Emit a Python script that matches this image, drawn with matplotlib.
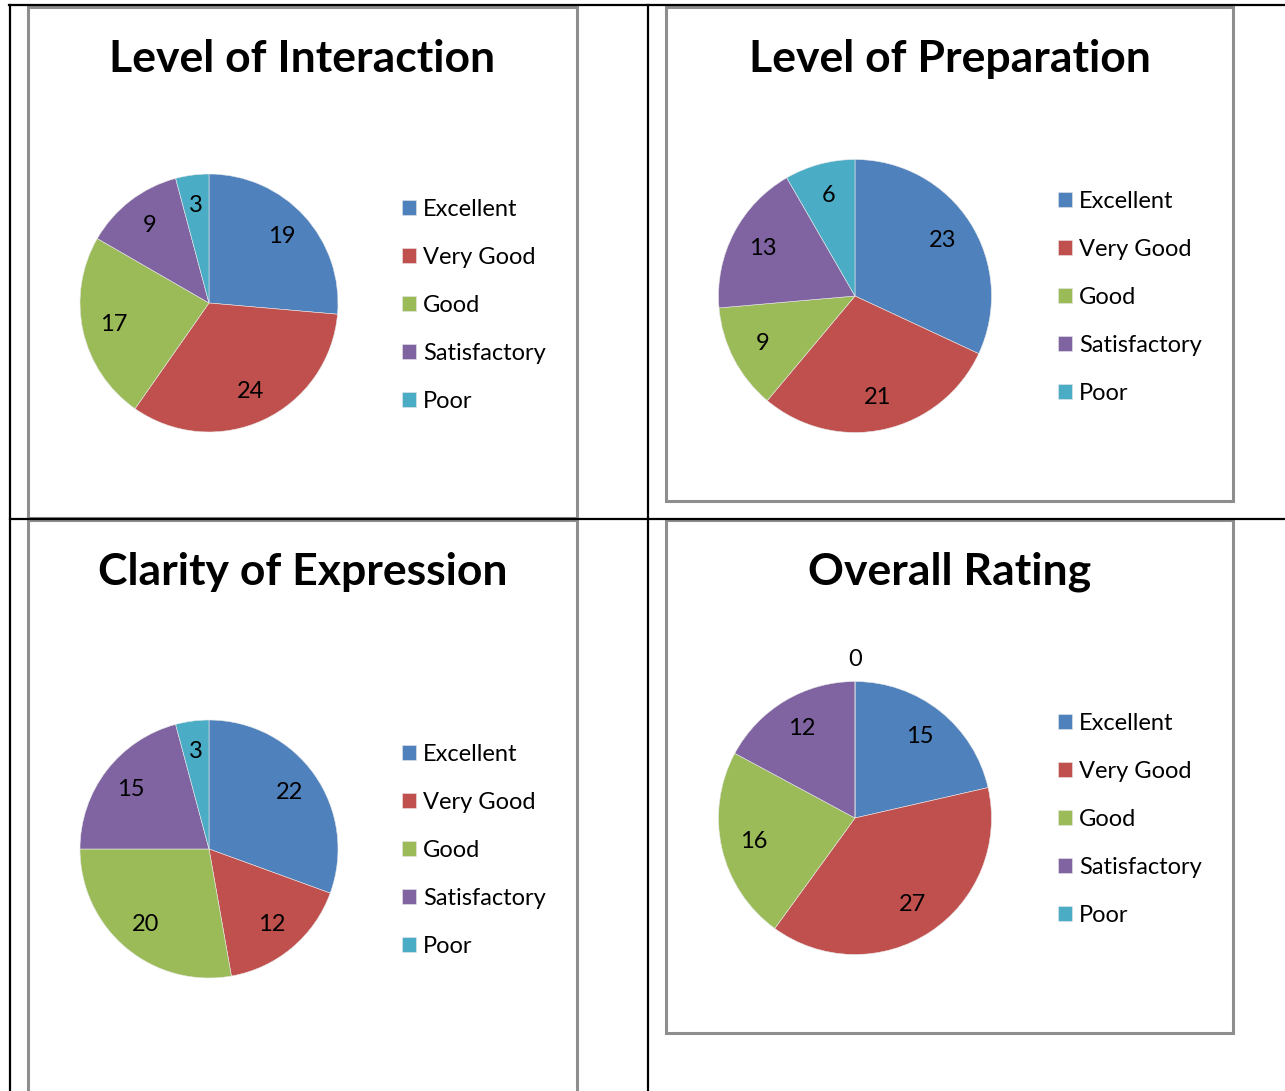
import matplotlib.pyplot as plt
from matplotlib.patches import Rectangle
from matplotlib.lines import Line2D

W, H = 1285, 1091

categories = ["Excellent", "Very Good", "Good", "Satisfactory", "Poor"]
colors = ["#4F81BD", "#C0504D", "#9BBB59", "#8064A2", "#4BACC6"]

titles = ["Level of Interaction", "Level of Preparation",
          "Clarity of Expression", "Overall Rating"]
interaction = [19, 24, 17, 9, 3]
preparation = [23, 21, 9, 13, 6]
clarity = [22, 12, 20, 15, 3]
overall = [15, 27, 16, 12, 0]

plt.rcParams['font.family'] = ['Lato', 'DejaVu Sans']

fig = plt.figure(figsize=(W / 100, H / 100), dpi=100)


def fx(x):
    return x / W


def fy(y):
    return 1 - y / H


# table lines (black)
for (x0, y0, x1, y1) in [(9, 5, W, 5), (10, 5, 10, H), (648, 5, 648, H), (10, 519, W, 519)]:
    fig.add_artist(Line2D([fx(x0), fx(x1)], [fy(y0), fy(y1)], color="black", lw=1.6,
                          transform=fig.transFigure))

# chart boxes: (left, top, right, bottom), title y, pie center, radius, legend top-left
charts = [
    ((28, 7, 577, 518), 59, (209, 303), 129, (402, 199)),
    ((666, 7, 1233, 501), 59, (855, 296), 136.5, (1058, 191)),
    ((28, 520, 577, 1100), 572, (209, 849), 129, (402, 744)),
    ((666, 520, 1233, 1033), 572, (855, 818), 136.5, (1058, 713)),
]
datasets = [interaction, preparation, clarity, overall]

for (box, ty, c, r, leg), title, vals in zip(charts, titles, datasets):
    l, t, rr, b = box
    fig.add_artist(Rectangle((fx(l), fy(b)), fx(rr - l), (b - t) / H, fill=False,
                             edgecolor="#8E8E8E", lw=2.2, transform=fig.transFigure))
    fig.text(fx((l + rr) / 2), fy(ty), title, ha="center", va="center",
             fontsize=32, fontweight="bold")

    ax = fig.add_axes([fx(c[0] - r), fy(c[1] + r), 2 * r / W, 2 * r / H])
    total = sum(vals)
    wedges, texts, autotexts = ax.pie(
        vals, colors=colors, startangle=90, counterclock=False,
        autopct=lambda p, tot=total: "%d" % round(p * tot / 100),
        pctdistance=0.76, radius=1,
        wedgeprops=dict(edgecolor="#E8E8E8", linewidth=0.4),
        textprops=dict(fontsize=17, color="black"))
    for v, txt in zip(vals, autotexts):
        if v == 0:
            txt.set_position((0, 1.16))
    ax.set_xlim(-1, 1)
    ax.set_ylim(-1, 1)
    ax.set_aspect("equal")
    ax.axis("off")

    fig.legend(wedges, categories, loc="upper left",
               bbox_to_anchor=(fx(leg[0]), fy(leg[1])), frameon=False,
               fontsize=17, labelspacing=1.14, handlelength=0.6,
               handleheight=0.6, handletextpad=0.3, borderpad=0,
               borderaxespad=0)

fig.savefig("out.png", dpi=100)
